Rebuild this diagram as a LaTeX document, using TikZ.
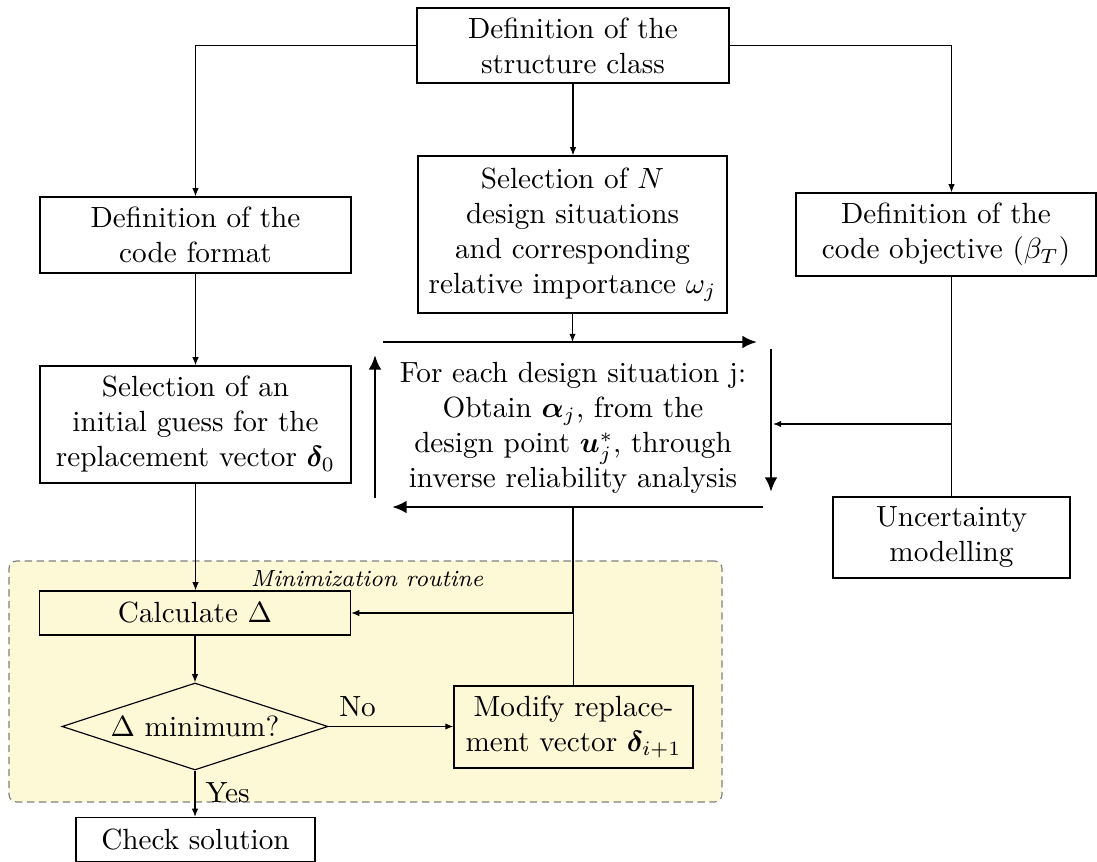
\documentclass[tikz,border=0pt]{standalone}
\usepackage{amsmath,bm}
\usetikzlibrary{shapes.geometric,arrows.meta}
\newdimen\pxu \pxu=0.34247pt
\definecolor{minifill}{RGB}{253,248,214}
\begin{document}
\begin{tikzpicture}[x=0.34247pt, y=-0.34247pt,
  box/.style={draw, align=center, inner sep=0pt},
  arr/.style={-{Latex[length=2.8pt,width=2.2pt]}},
  bigarr/.style={line width=1pt, -{Latex[length=5pt,width=4.4pt]}},
  region/.style={draw=gray, dashed, dash pattern=on 2.5pt off 1.6pt, fill=minifill, rounded corners=2.6pt}
]
\useasboundingbox (0,0) rectangle (1097,862);

% minimization region
\node[region, minimum width=713\pxu, minimum height=241\pxu, inner sep=0pt] (minireg) at (365.5,681.5) {};
\node[font=\footnotesize\itshape, anchor=base, inner sep=0pt] (mr) at (367,587) {Minimization routine};

% boxes
\node[box, minimum width=312\pxu, minimum height=75\pxu] (top) at (573,45.5) {Definition of the\\structure class};
\node[box, minimum width=311\pxu, minimum height=76\pxu] (fmt) at (195.5,235) {Definition of the\\code format};
\node[box, minimum width=309\pxu, minimum height=157\pxu] (sel) at (572.5,234.5) {Selection of $N$\\design situations\\and corresponding\\relative importance $\omega_j$};
\node[box, minimum width=300\pxu, minimum height=83\pxu] (obj) at (946,234.5) {Definition of the\\code objective ($\beta_T$)};
\node[box, minimum width=237\pxu, minimum height=81\pxu] (unc) at (951.5,537.5) {Uncertainty\\modelling};
\node[box, minimum width=311\pxu, minimum height=117\pxu] (gues) at (195.5,424.5) {Selection of an\\initial guess for the\\replacement vector $\bm{\delta}_0$};
\node[align=center, inner sep=0pt] (loop) at (573,428) {For each design situation j:\\Obtain $\bm{\alpha}_j$, from the\\design point $\bm{u}_j^*$, through\\inverse reliability analysis};

\node[box, minimum width=311\pxu, minimum height=44\pxu] (calc) at (195,613) {Calculate $\Delta$};
\node[draw, diamond, aspect=3.06, inner sep=0pt, minimum width=266\pxu, minimum height=87\pxu] (dia) at (195,726.5) {$\Delta$ minimum?};
\node[box, minimum width=239\pxu, minimum height=82\pxu] (mod) at (573.5,727) {Modify replace-\\ment vector $\bm{\delta}_{i+1}$};
\node[box, minimum width=239\pxu, minimum height=44\pxu] (chk) at (195.5,839.5) {Check solution};

\node[anchor=base, inner sep=0pt] (no) at (357.5,716) {No};
\node[anchor=base west, inner sep=0pt] (yes) at (205,802) {Yes};

% loop arrows
\coordinate (t1) at (383,342); \coordinate (t2) at (757,342);
\coordinate (r1) at (771,349); \coordinate (r2) at (771,492);
\coordinate (b1) at (763,507); \coordinate (b2) at (392,507);
\coordinate (s1) at (375,498); \coordinate (s2) at (375,355);
\draw[bigarr] (t1) -- (t2);
\draw[bigarr] (r1) -- (r2);
\draw[bigarr] (b1) -- (b2);
\draw[bigarr] (s1) -- (s2);

% connectors
\draw[arr] (top.west) -| (fmt.north);
\draw[arr] (top.east) -| (unc.north |- obj.north);
\draw[arr] (top.south) -- (top.south |- sel.north);
\draw[arr] (sel.south) -- (sel.south |- t1);
\draw (obj.south -| unc.north) -- (unc.north);
\coordinate (br) at (951.5,424);
\coordinate (brt) at (773,424);
\draw[arr] (br) -- (brt);
\draw[arr] (fmt.south) -- (gues.north);
\draw[arr] (gues.south) -- (gues.south |- calc.north);
\coordinate (lb) at (573,507);
\coordinate (jn) at (573,613);
\draw[arr] (lb) -- (jn) -- (calc.east);
\draw (mod.north) -- (mod.north |- jn);
\draw[arr] (calc.south) -- (dia.north);
\draw[arr] (dia.east) -- (dia.east -| mod.west);
\draw[arr] (dia.south) -- (dia.south |- chk.north);
\end{tikzpicture}
\end{document}
